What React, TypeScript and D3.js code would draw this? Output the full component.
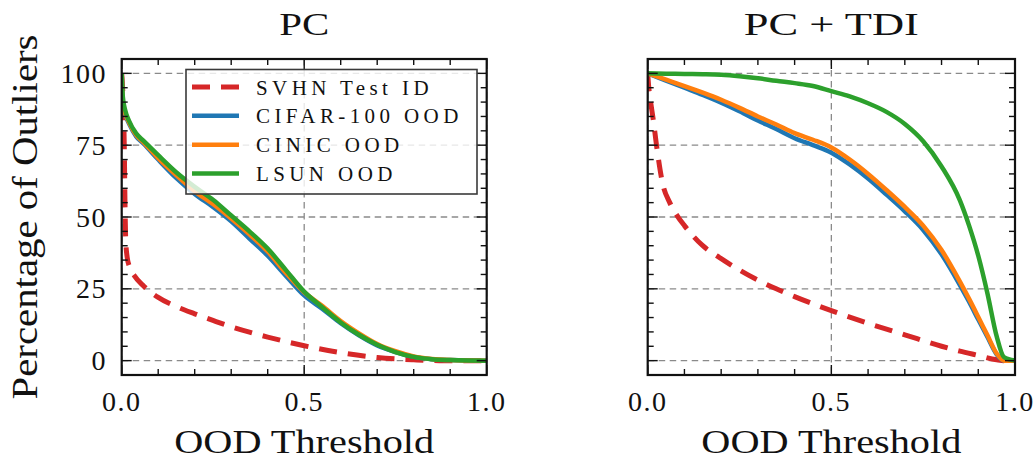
import React from 'react';
import * as d3 from 'd3';

// ---- data ----
const seriesNames = ['SVHN Test ID', 'CIFAR-100 OOD', 'CINIC OOD', 'LSUN OOD'];
const seriesColors = ['#d62728', '#1f77b4', '#ff7f0e', '#2ca02c'];

// PC panel
const pcSvhnThresh = [0, 0.004, 0.007, 0.009, 0.011, 0.015, 0.022, 0.035, 0.06, 0.1, 0.15, 0.2, 0.25, 0.3, 0.35, 0.4, 0.5, 0.6, 0.7, 0.8, 0.87, 1];
const pcSvhn = [100, 90, 75, 55, 42, 36, 32.5, 29.5, 26, 22, 18.8, 16.3, 14, 11.8, 9.9, 8.2, 5.2, 2.8, 1.1, 0.3, 0, 0];
const pcThresh = [0, 0.003, 0.01, 0.02, 0.04, 0.06, 0.1, 0.15, 0.2, 0.25, 0.3, 0.35, 0.4, 0.45, 0.5, 0.55, 0.6, 0.65, 0.7, 0.75, 0.8, 0.85, 0.9, 0.95, 1];
const pcCifar = [100, 89, 85.5, 82.5, 78, 75.5, 70, 63.5, 58, 53.5, 48.5, 42.5, 36.5, 29.5, 22.7, 18, 13, 8.8, 5.3, 3, 1.3, 0.5, 0.2, 0.05, 0];
const pcCinic = [100, 90, 86, 83, 78.5, 76, 70.5, 64.5, 59, 54.5, 49.5, 44, 38, 30.5, 23.8, 19, 13.8, 9.5, 5.8, 3.3, 1.5, 0.6, 0.2, 0.05, 0];
const pcLsun = [100, 92, 87, 83.5, 79, 76.5, 71.5, 65.5, 60.5, 56, 50.5, 45, 39, 31.5, 24, 18.5, 13.3, 9, 5.5, 3, 1.3, 0.5, 0.2, 0.05, 0];

// PC + TDI panel
const tdiSvhnThresh = [0, 0.003, 0.008, 0.015, 0.025, 0.04, 0.06, 0.08, 0.1, 0.15, 0.2, 0.25, 0.3, 0.35, 0.4, 0.5, 0.6, 0.7, 0.8, 0.85, 0.9, 0.95, 0.97, 1];
const tdiSvhn = [100, 95, 90, 84, 74, 62, 55, 50.5, 47, 40, 35.5, 31.5, 28, 25, 22.3, 17.4, 13, 9, 5, 3.3, 1.8, 0.3, 0, 0];
const tdiThresh = [0, 0.05, 0.1, 0.15, 0.2, 0.25, 0.3, 0.35, 0.4, 0.45, 0.5, 0.55, 0.6, 0.65, 0.7, 0.75, 0.8, 0.85, 0.875, 0.9, 0.925, 0.95, 0.97, 1];
const tdiCifar = [100, 97.5, 95, 92.5, 89.8, 86.8, 83.6, 80.6, 77.4, 75, 72.4, 68.3, 63.4, 57.8, 52, 45.5, 37, 26.3, 20.5, 14.3, 8.2, 2.2, 0, 0];
const tdiCinic = [100, 97.8, 95.6, 93.3, 90.8, 88, 85, 82.2, 79.2, 76.9, 74.2, 70, 65, 59.4, 53.5, 47, 38.5, 27.5, 21.5, 15.2, 8.8, 2.5, 0, 0];
const tdiLsun = [100, 99.9, 99.8, 99.7, 99.5, 99, 98.3, 97.4, 96.6, 95.6, 93.8, 92, 89.6, 86.6, 82.4, 76.4, 67.6, 55.8, 47, 36.5, 23.4, 8.5, 1.2, 0];

const xMajor = [0, 0.5, 1.0];
const xTickLabels = ['0.0', '0.5', '1.0'];
const yMajor = [0, 25, 50, 75, 100];
const yTickLabels = ['0', '25', '50', '75', '100'];

const W = 1036;
const H = 460;
const top = 59;
const bottom = 375;
const serif = '"Liberation Serif", "Times New Roman", serif';

const panels = [
  {
    id: 'pc', title: 'PC', left: 121.7, right: 486.7, yLabels: true, legend: true,
    series: [[pcSvhnThresh, pcSvhn], [pcThresh, pcCifar], [pcThresh, pcCinic], [pcThresh, pcLsun]],
  },
  {
    id: 'tdi', title: 'PC + TDI', left: 647.7, right: 1015, yLabels: false, legend: false,
    series: [[tdiSvhnThresh, tdiSvhn], [tdiThresh, tdiCifar], [tdiThresh, tdiCinic], [tdiThresh, tdiLsun]],
  },
];

const y = d3.scaleLinear().domain([-5, 105]).range([bottom, top]);

function Panel({ p }: { p: any }) {
  const x = d3.scaleLinear().domain([0, 1]).range([p.left, p.right]);
  const line = d3.line<[number, number]>().x(d => x(d[0])).y(d => y(d[1])).curve(d3.curveMonotoneX);
  const xMinor = d3.range(0, 1.0001, 0.1);
  const yMinor = d3.range(-5, 105.001, 5);
  const majLen = 10, minLen = 6;
  const cx = (p.left + p.right) / 2;

  return (
    <g>
      <defs>
        <clipPath id={'clip-' + p.id}>
          <rect x={p.left} y={top} width={p.right - p.left} height={bottom - top} />
        </clipPath>
      </defs>
      {/* grid */}
      <g stroke="#8a8a8a" strokeWidth={1.3} strokeDasharray="6.5,4.5">
        {yMajor.map(v => <line key={'gy' + v} x1={p.left} x2={p.right} y1={y(v)} y2={y(v)} />)}
        {xMajor.map(v => <line key={'gx' + v} x1={x(v)} x2={x(v)} y1={top} y2={bottom} />)}
      </g>
      {/* curves */}
      <g clipPath={`url(#clip-${p.id})`} fill="none" strokeLinejoin="round">
        {p.series.map((s: any, i: number) => {
          const pts = s[0].map((t: number, j: number) => [t, s[1][j]] as [number, number]);
          return (
            <path key={i} d={line(pts) || ''} stroke={seriesColors[i]}
              strokeWidth={i === 0 ? 5 : 4.5}
              strokeDasharray={i === 0 ? '18,11' : undefined} />
          );
        })}
      </g>
      {/* ticks, inward on all sides */}
      <g stroke="#111" strokeWidth={1.4}>
        {xMinor.map((v, i) => {
          const len = xMajor.some(m => Math.abs(m - v) < 1e-6) ? majLen : minLen;
          return (
            <g key={'xt' + i}>
              <line x1={x(v)} x2={x(v)} y1={bottom} y2={bottom - len} />
              <line x1={x(v)} x2={x(v)} y1={top} y2={top + len} />
            </g>
          );
        })}
        {yMinor.map((v, i) => {
          const len = yMajor.includes(Math.round(v)) ? majLen : minLen;
          return (
            <g key={'yt' + i}>
              <line x1={p.left} x2={p.left + len} y1={y(v)} y2={y(v)} />
              <line x1={p.right} x2={p.right - len} y1={y(v)} y2={y(v)} />
            </g>
          );
        })}
      </g>
      <rect x={p.left} y={top} width={p.right - p.left} height={bottom - top}
        fill="none" stroke="#111" strokeWidth={2.2} />
      {/* tick labels */}
      <g fontFamily={serif} fontSize={28} fill="#111" letterSpacing={1.5}>
        {xMajor.map((v, i) => (
          <text key={'xl' + i} x={x(v)} y={411} textAnchor="middle">{xTickLabels[i]}</text>
        ))}
        {p.yLabels && yMajor.map((v, i) => (
          <text key={'yl' + i} x={107} y={y(v) + 9.5} textAnchor="end">{yTickLabels[i]}</text>
        ))}
      </g>
      {/* titles */}
      <text x={cx} y={35} textAnchor="middle" fontFamily={serif} fontSize={32} fill="#111"
        textLength={p.title === 'PC' ? 50 : 175} lengthAdjust="spacingAndGlyphs">{p.title}</text>
      <text x={cx} y={453} textAnchor="middle" fontFamily={serif} fontSize={33} fill="#111"
        textLength={260} lengthAdjust="spacingAndGlyphs">OOD Threshold</text>
      {p.legend && <Legend />}
    </g>
  );
}

function Legend() {
  const lx = 186, ly = 69.5, lw = 291, lh = 124.5;
  const rows = d3.scaleLinear().domain([0, 3]).range([87, 173.5]);
  return (
    <g>
      <rect x={lx} y={ly} width={lw} height={lh} fill="#fff" fillOpacity={0.8}
        stroke="#3a3a3a" strokeWidth={1.6} />
      {seriesNames.map((name, i) => (
        <g key={name}>
          <line x1={192} x2={239} y1={rows(i)} y2={rows(i)} stroke={seriesColors[i]}
            strokeWidth={i === 0 ? 5 : 4.5} strokeDasharray={i === 0 ? '18,11' : undefined} />
          <text x={256} y={rows(i) + 7.5} fontFamily={serif} fontSize={21} letterSpacing={4.4}
            fill="#111">{name}</text>
        </g>
      ))}
    </g>
  );
}

export default function App() {
  return (
    <svg width={W} height={H} style={{ position: 'absolute', left: 0, top: 0, background: '#fff' }}>
      <rect width={W} height={H} fill="#fff" />
      {panels.map(p => <Panel key={p.id} p={p} />)}
      <text transform={`translate(37, ${(top + bottom) / 2 + 0}) rotate(-90)`} textAnchor="middle"
        fontFamily={serif} fontSize={36} fill="#111" textLength={365}
        lengthAdjust="spacingAndGlyphs">Percentage of Outliers</text>
    </svg>
  );
}
